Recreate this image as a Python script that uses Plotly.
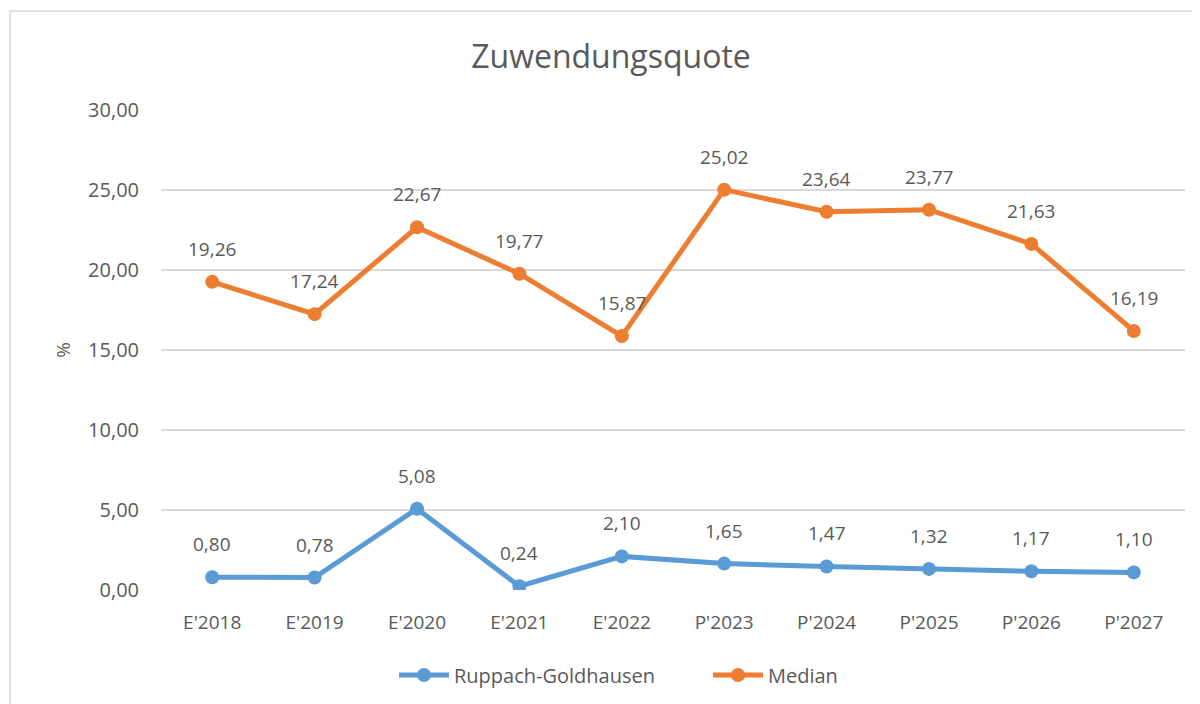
import plotly.graph_objects as go

categories = ["E'2018", "E'2019", "E'2020", "E'2021", "E'2022",
              "P'2023", "P'2024", "P'2025", "P'2026", "P'2027"]
ruppach = [0.80, 0.78, 5.08, 0.24, 2.10, 1.65, 1.47, 1.32, 1.17, 1.10]
median = [19.26, 17.24, 22.67, 19.77, 15.87, 25.02, 23.64, 23.77, 21.63, 16.19]
y_ticks = [0, 5, 10, 15, 20, 25, 30]

BLUE = "#5B9BD5"
ORANGE = "#ED7D31"
GREY = "#595959"
FONT = "Open Sans"

# page offset of the figure (body margin)
OFF = 8
L, R, T, B = 161 - OFF, 1185 - OFF, 110 - OFF, 590 - OFF
W, H = 1200, 704
PW, PH = R - L, B - T

fig = go.Figure()
fig.add_trace(go.Scatter(x=categories, y=ruppach, name="Ruppach-Goldhausen",
                         mode="lines+markers", legend="legend",
                         line=dict(color=BLUE, width=5),
                         marker=dict(size=14, color=BLUE)))
fig.add_trace(go.Scatter(x=categories, y=median, name="Median",
                         mode="lines+markers", legend="legend2",
                         line=dict(color=ORANGE, width=5),
                         marker=dict(size=14, color=ORANGE)))

# data labels above the points
for series in (ruppach, median):
    for c, v in zip(categories, series):
        fig.add_annotation(x=c, y=v, text=f"{v:.2f}".replace(".", ","),
                           showarrow=False, yshift=33,
                           font=dict(family=FONT, size=19, color=GREY))

# outer chart border
fig.add_shape(type="rect", xref="paper", yref="paper",
              x0=(10 - OFF - L) / PW, x1=(1215 - OFF - L) / PW,
              y0=(B - (720 - OFF)) / PH, y1=(B - (11 - OFF)) / PH,
              line=dict(color="#D9D9D9", width=1.5), layer="below")

legend_style = dict(orientation="h", xanchor="left", yanchor="middle",
                    y=(B - (675 - OFF)) / PH, itemwidth=50,
                    font=dict(family=FONT, size=20, color=GREY))

fig.update_layout(
    width=W, height=H,
    margin=dict(l=L, r=W - R, t=T, b=H - B),
    paper_bgcolor="white", plot_bgcolor="white",
    separators=",.",
    font=dict(family=FONT, size=19, color=GREY),
    title=dict(text="Zuwendungsquote", x=(611 - OFF) / W, xanchor="center",
               y=1 - (57 - OFF) / H, yanchor="middle", yref="container",
               font=dict(family=FONT, size=32, color=GREY)),
    legend=dict(x=(394 - OFF - L) / PW, **legend_style),
    legend2=dict(x=(708 - OFF - L) / PW, **legend_style),
    showlegend=True,
)
fig.update_xaxes(range=[-0.5, len(categories) - 0.5],
                 showgrid=False, showline=False, zeroline=False,
                 ticks="outside", ticklen=15, tickcolor="rgba(0,0,0,0)",
                 tickfont=dict(family=FONT, size=19, color=GREY))
fig.update_yaxes(range=[0, 30], tickvals=y_ticks, tickformat=".2f",
                 showgrid=True, gridcolor="#D9D9D9", gridwidth=1.5,
                 zeroline=False, showline=False,
                 ticks="outside", ticklen=17, tickcolor="rgba(0,0,0,0)",
                 tickfont=dict(family=FONT, size=20, color=GREY),
                 title=dict(text="%", standoff=12,
                            font=dict(family=FONT, size=19, color=GREY)))

fig.write_html("out.html")
